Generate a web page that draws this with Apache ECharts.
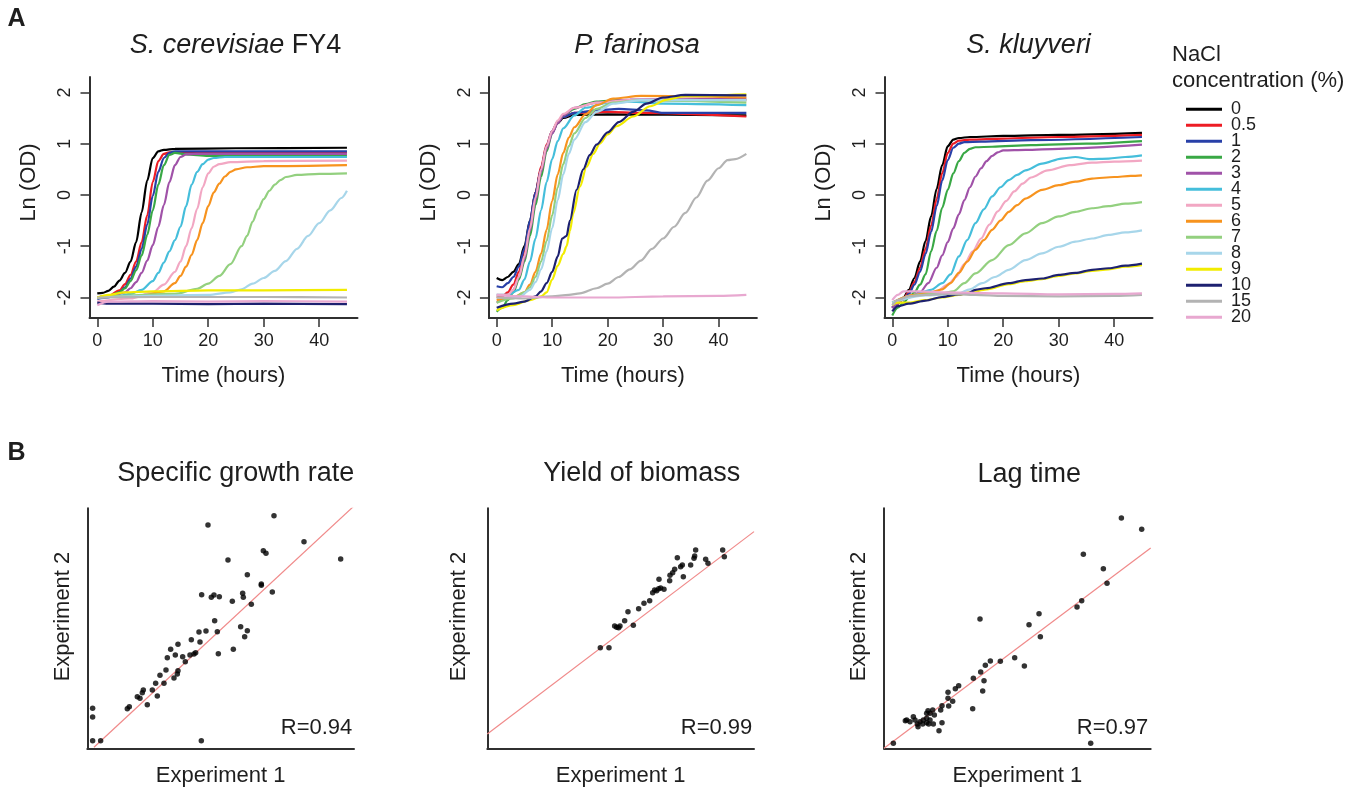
<!DOCTYPE html>
<html>
<head>
<meta charset="utf-8">
<script src="https://cdn.jsdelivr.net/npm/echarts@6/dist/echarts.min.js"></script>
<style>html,body{margin:0;padding:0;background:#fff}#c{width:1362px;height:790px}</style>
</head>
<body>
<div id="c"></div>
<script>
// ---------------- DATA ----------------
const concentrations = ['0','0.5','1','2','3','4','5','6','7','8','9','10','15','20'];
const lineColors = ['#000000','#ed1c24','#2840a8','#39a845','#a052a8','#45bedb','#f2a7c3','#f7931e','#93d07f','#a7d6ea','#f2ec00','#1d2170','#b3b3b3','#e8a8d0'];
const timeTicks = [0,10,20,30,40];
const odTicks = [-2,-1,0,1,2];

// S. cerevisiae FY4  [time (h), ln(OD)]
const scer_0   = [[0,-1.92],[1,-1.91],[2,-1.87],[3,-1.79],[4,-1.67],[5,-1.52],[6,-1.3],[7,-0.92],[8,-0.34],[9,0.28],[10,0.72],[11,0.85],[12,0.88],[14,0.9],[25,0.91],[45,0.92]];
const scer_05  = [[0,-2.0],[2,-1.97],[4,-1.86],[5,-1.74],[6,-1.56],[7,-1.3],[8,-0.92],[9,-0.4],[10,0.25],[11,0.66],[12,0.8],[13,0.83],[16,0.83],[45,0.83]];
const scer_1   = [[0,-2.03],[2,-2.0],[4,-1.9],[5,-1.8],[6,-1.63],[7,-1.4],[8,-1.05],[9,-0.58],[10,-0.02],[11,0.45],[12,0.72],[13,0.82],[14,0.85],[45,0.85]];
const scer_2   = [[0,-2.0],[2,-1.98],[4,-1.9],[5,-1.82],[6,-1.68],[7,-1.47],[8,-1.18],[9,-0.78],[10,-0.3],[11,0.2],[12,0.58],[13,0.78],[14,0.82],[16,0.79],[20,0.76],[45,0.76]];
const scer_3   = [[0,-2.0],[3,-1.96],[5,-1.9],[6,-1.82],[7,-1.7],[8,-1.52],[9,-1.28],[10,-0.98],[11,-0.62],[12,-0.2],[13,0.25],[14,0.58],[15,0.74],[16,0.79],[18,0.8],[45,0.8]];
const scer_4   = [[0,-2.0],[4,-1.97],[6,-1.93],[8,-1.85],[10,-1.68],[11,-1.52],[12,-1.32],[13,-1.1],[14,-0.88],[15,-0.62],[16,-0.22],[17,0.2],[18,0.45],[19,0.6],[20,0.69],[21,0.72],[23,0.74],[45,0.74]];
const scer_5   = [[0,-2.08],[6,-2.02],[10,-1.9],[12,-1.75],[14,-1.5],[15,-1.3],[16,-1.0],[17,-0.65],[18,-0.27],[19,0.15],[20,0.42],[21,0.55],[22,0.6],[24,0.64],[30,0.66],[45,0.67]];
const scer_6   = [[0,-2.0],[8,-1.97],[12,-1.88],[14,-1.72],[15,-1.58],[16,-1.4],[17,-1.17],[18,-0.88],[19,-0.55],[20,-0.22],[21,0.05],[22,0.22],[23,0.36],[24,0.45],[25,0.5],[27,0.54],[30,0.56],[45,0.58]];
const scer_7   = [[0,-2.0],[14,-1.93],[18,-1.83],[20,-1.73],[22,-1.58],[24,-1.35],[26,-1.0],[27,-0.8],[28,-0.52],[29,-0.28],[30,-0.08],[31,0.08],[32,0.2],[33,0.29],[34,0.35],[36,0.39],[40,0.41],[45,0.42]];
const scer_8   = [[0,-2.0],[20,-1.95],[24,-1.9],[26,-1.84],[28,-1.73],[30,-1.62],[32,-1.48],[34,-1.29],[36,-1.05],[38,-0.8],[40,-0.55],[42,-0.3],[44,-0.06],[45,0.08]];
const scer_9   = [[0,-2.0],[2,-1.95],[5,-1.9],[10,-1.88],[20,-1.86],[30,-1.86],[45,-1.85]];
const scer_10  = [[0,-2.1],[2,-2.12],[10,-2.12],[20,-2.13],[30,-2.12],[45,-2.13]];
const scer_15  = [[0,-2.0],[10,-1.99],[20,-1.99],[30,-1.99],[45,-2.0]];
const scer_20  = [[0,-2.15],[2,-2.08],[10,-2.07],[20,-2.08],[30,-2.07],[45,-2.08]];

// P. farinosa
const pfar_0   = [[0,-1.62],[1,-1.66],[2,-1.6],[3,-1.5],[4,-1.35],[5,-1.0],[6,-0.5],[7,0.05],[8,0.5],[9,0.94],[10,1.22],[11,1.4],[12,1.5],[14,1.56],[20,1.57],[45,1.55]];
const pfar_05  = [[0,-2.0],[1,-1.98],[2,-1.9],[3,-1.75],[4,-1.5],[5,-1.1],[6,-0.55],[7,0.05],[8,0.55],[9,0.98],[10,1.25],[11,1.42],[12,1.52],[14,1.6],[20,1.62],[26,1.6],[45,1.53]];
const pfar_1   = [[0,-1.78],[1,-1.8],[2,-1.72],[3,-1.6],[4,-1.4],[5,-1.05],[6,-0.5],[7,0.05],[8,0.5],[9,0.95],[10,1.25],[11,1.42],[12,1.52],[14,1.6],[18,1.65],[22,1.68],[27,1.65],[30,1.6],[45,1.6]];
const pfar_2   = [[0,-2.28],[1,-2.2],[2,-2.05],[3,-1.9],[4,-1.65],[5,-1.3],[6,-0.8],[7,-0.2],[8,0.35],[9,0.85],[10,1.2],[11,1.42],[12,1.55],[14,1.68],[16,1.77],[18,1.82],[22,1.85],[45,1.85]];
const pfar_3   = [[0,-2.1],[2,-2.0],[3,-1.85],[4,-1.6],[5,-1.25],[6,-0.7],[7,-0.1],[8,0.45],[9,0.9],[10,1.2],[11,1.4],[12,1.55],[14,1.7],[18,1.8],[24,1.86],[45,1.88]];
const pfar_4   = [[0,-1.95],[2,-1.95],[4,-1.85],[5,-1.65],[6,-1.3],[7,-0.85],[8,-0.3],[9,0.25],[10,0.7],[11,1.05],[12,1.3],[14,1.55],[16,1.7],[20,1.8],[24,1.82],[30,1.78],[45,1.75]];
const pfar_5   = [[0,-1.95],[2,-1.95],[3,-1.85],[4,-1.6],[5,-1.2],[6,-0.65],[7,-0.05],[8,0.5],[9,0.95],[10,1.25],[11,1.45],[12,1.58],[14,1.7],[18,1.8],[24,1.85],[45,1.85]];
const pfar_6   = [[0,-2.05],[3,-2.0],[5,-1.9],[6,-1.75],[7,-1.5],[8,-1.15],[9,-0.68],[10,-0.12],[11,0.4],[12,0.82],[13,1.12],[14,1.32],[16,1.57],[18,1.75],[21,1.88],[26,1.93],[45,1.9]];
const pfar_7   = [[0,-2.1],[3,-2.02],[5,-1.9],[6,-1.8],[7,-1.6],[8,-1.3],[9,-0.9],[10,-0.4],[11,0.15],[12,0.6],[13,0.95],[14,1.2],[16,1.5],[18,1.68],[21,1.8],[26,1.85],[45,1.8]];
const pfar_8   = [[0,-2.0],[4,-2.0],[6,-1.85],[7,-1.7],[8,-1.45],[9,-1.1],[10,-0.65],[11,-0.1],[12,0.4],[13,0.8],[14,1.08],[16,1.42],[18,1.62],[21,1.78],[26,1.85],[45,1.85]];
const pfar_9   = [[0,-2.25],[3,-2.15],[6,-2.05],[8,-1.98],[9,-1.9],[10,-1.65],[11,-1.38],[12,-1.15],[12.6,-1.0],[13.2,-0.7],[13.8,-0.36],[15,0.16],[16.2,0.55],[17.4,0.8],[18.6,1.0],[20,1.18],[21.6,1.34],[24.6,1.53],[27.7,1.73],[30.7,1.86],[34,1.93],[45,1.96]];
const pfar_10  = [[0,-2.2],[3,-2.12],[5,-2.08],[7,-1.98],[8,-1.88],[9,-1.72],[10,-1.5],[11,-1.2],[11.8,-0.85],[12.6,-0.8],[13.2,-0.5],[14.4,0.1],[15.6,0.5],[16.8,0.78],[18,0.98],[20,1.22],[22,1.42],[24.6,1.62],[27,1.78],[30,1.9],[34,1.95],[45,1.94]];
const pfar_15  = [[0,-2.0],[5,-2.02],[10,-1.98],[13,-1.95],[15,-1.92],[18,-1.82],[20,-1.73],[22,-1.6],[24,-1.45],[26,-1.28],[28,-1.05],[30,-0.85],[32,-0.62],[34,-0.35],[36,-0.05],[38,0.28],[40,0.52],[41.6,0.68],[43,0.7],[45,0.8]];
const pfar_20  = [[0,-1.95],[5,-1.98],[10,-2.0],[20,-2.0],[30,-1.98],[40,-1.97],[45,-1.95]];

// S. kluyveri
const sklu_0   = [[0,-2.2],[1,-2.12],[2,-2.0],[3,-1.85],[4,-1.62],[5,-1.3],[6,-0.9],[7,-0.42],[8,0.12],[9,0.58],[10,0.95],[11,1.08],[12,1.11],[14,1.13],[20,1.15],[30,1.17],[45,1.21]];
const sklu_05  = [[0,-2.2],[1,-2.12],[2,-2.02],[3,-1.9],[4,-1.7],[5,-1.42],[6,-1.05],[7,-0.6],[8,-0.08],[9,0.42],[10,0.82],[11,1.0],[12,1.06],[14,1.08],[20,1.1],[30,1.13],[45,1.17]];
const sklu_1   = [[0,-2.2],[2,-2.04],[3,-1.93],[4,-1.75],[5,-1.5],[6,-1.15],[7,-0.72],[8,-0.22],[9,0.28],[10,0.68],[11,0.92],[12,1.0],[13,1.03],[16,1.04],[25,1.07],[45,1.13]];
const sklu_2   = [[0,-2.35],[1,-2.2],[2,-2.1],[3,-2.0],[4,-1.9],[5,-1.75],[6,-1.55],[7,-1.1],[8,-0.7],[9,-0.25],[10,0.1],[11,0.42],[12,0.66],[13,0.82],[14,0.9],[15,0.93],[18,0.94],[25,0.97],[35,1.0],[45,1.05]];
const sklu_3   = [[0,-2.2],[3,-2.0],[5,-1.9],[6.5,-1.72],[8,-1.42],[9,-1.18],[10,-0.92],[11,-0.65],[12,-0.38],[13,-0.1],[14,0.15],[15,0.36],[16,0.52],[17,0.66],[18,0.76],[19,0.83],[20,0.87],[24,0.88],[30,0.9],[45,0.98]];
const sklu_4   = [[0,-2.1],[4,-1.95],[7,-1.85],[9,-1.72],[10.5,-1.55],[12,-1.2],[13.5,-0.88],[15,-0.55],[16.5,-0.28],[18,-0.03],[19.5,0.15],[21,0.29],[22.5,0.39],[24,0.48],[27,0.61],[30.5,0.71],[33,0.74],[35.5,0.7],[39,0.71],[42,0.74],[45,0.77]];
const sklu_5   = [[0,-2.1],[4,-1.95],[8,-1.88],[10,-1.75],[11.5,-1.6],[13,-1.35],[14.5,-1.1],[16,-0.85],[17.5,-0.58],[19,-0.32],[20.5,-0.12],[22,0.07],[23.5,0.22],[25,0.34],[28,0.48],[32,0.58],[36,0.63],[40,0.65],[45,0.67]];
const sklu_6   = [[0,-2.1],[4,-1.95],[7,-1.9],[9,-1.84],[10.5,-1.72],[12,-1.52],[13.5,-1.3],[15,-1.07],[16.5,-0.88],[18,-0.68],[19.5,-0.5],[21,-0.33],[22.5,-0.2],[24,-0.07],[27,0.1],[30,0.19],[33,0.26],[36,0.32],[40,0.35],[43,0.37],[45,0.38]];
const sklu_7   = [[0,-2.1],[5,-1.95],[9,-1.92],[11,-1.88],[13,-1.72],[15,-1.53],[18,-1.27],[21,-0.98],[24,-0.75],[27,-0.55],[30,-0.42],[33,-0.33],[36,-0.26],[39,-0.22],[42,-0.17],[45,-0.14]];
const sklu_8   = [[0,-2.1],[6,-1.96],[10,-1.94],[12,-1.92],[14,-1.84],[16.2,-1.72],[18.5,-1.6],[21,-1.46],[24,-1.27],[27,-1.14],[30,-1.01],[33,-0.91],[36,-0.85],[39,-0.78],[42,-0.73],[45,-0.69]];
const sklu_9   = [[0,-2.15],[1,-2.1],[3,-2.1],[6,-2.05],[9,-2.0],[12,-1.95],[14,-1.9],[17,-1.84],[21,-1.74],[24,-1.68],[27,-1.64],[30,-1.58],[33,-1.53],[36,-1.48],[39,-1.45],[42,-1.4],[45,-1.37]];
const sklu_10  = [[0,-2.27],[1,-2.17],[3,-2.12],[6,-2.06],[9,-1.99],[12,-1.94],[13.5,-1.92],[15,-1.85],[16.8,-1.82],[21,-1.72],[24,-1.66],[27,-1.63],[30,-1.56],[33,-1.52],[36,-1.46],[39,-1.43],[42,-1.38],[45,-1.34]];
const sklu_15  = [[0,-2.15],[1,-2.05],[3,-1.98],[6,-1.95],[10,-1.93],[15,-1.95],[20,-1.97],[30,-1.98],[40,-1.97],[45,-1.95]];
const sklu_20  = [[0,-2.05],[1,-1.95],[2,-1.88],[5,-1.88],[10,-1.9],[20,-1.92],[30,-1.94],[40,-1.93],[45,-1.92]];

// Panel B: experiment 1 vs experiment 2 (relative units)
const growthRate = [[560,698],[362,670],[650,620],[528,593],[536,585],[760,568],[422,565],[480,521],[522,493],[522,489],[555,469],[466,465],[468,453],[343,461],[372,453],[380,460],[396,455],[435,441],[492,432],[382,383],[356,352],[390,350],[460,365],[480,353],[472,335],[335,349],[312,326],[338,319],[272,312],[250,297],[438,297],[393,284],[325,287],[320,283],[308,280],[286,275],[264,280],[240,272],[294,260],[236,235],[218,219],[272,233],[270,223],[260,211],[230,195],[205,195],[195,175],[168,175],[165,167],[150,155],[158,150],[210,157],[180,131],[126,125],[120,119],[16,120],[16,94],[16,23],[40,23],[342,23]];
const biomassYield = [[339,302],[365,302],[438,369],[382,367],[388,363],[394,362],[398,367],[412,383],[422,410],[454,419],[470,435],[487,443],[496,467],[502,475],[508,473],[514,479],[520,481],[530,477],[515,507],[547,503],[548,519],[556,527],[562,537],[570,572],[580,545],[585,550],[588,515],[610,550],[620,570],[622,577],[625,595],[655,567],[662,555],[706,595],[711,575]];
const lagTime = [[28,15],[712,691],[773,657],[598,582],[658,539],[669,495],[593,443],[579,424],[288,388],[465,404],[435,371],[469,335],[392,272],[421,247],[349,261],[319,262],[304,249],[290,229],[268,210],[300,203],[296,172],[224,188],[214,179],[192,168],[192,150],[206,141],[174,128],[194,127],[170,115],[266,119],[146,115],[132,113],[128,105],[138,105],[151,100],[174,77],[165,53],[148,73],[138,85],[128,90],[118,85],[108,80],[100,73],[116,73],[128,77],[134,73],[93,85],[88,95],[78,80],[68,85],[64,83],[102,65],[620,15]];
const fitGrowth = [[20,3],[800,727]];
const fitYield = [[0,43],[800,650]];
const fitLag = [[0,0],[800,601]];
const rValues = ['R=0.94','R=0.99','R=0.97'];
const panelTitlesB = ['Specific growth rate','Yield of biomass','Lag time'];

// ---------------- CHART ----------------
const FONT = '"Liberation Sans", Arial, Helvetica, sans-serif';
const TXT = '#1e1e1e';
const AX = '#303030';
const curvesA = [
  [scer_0,scer_05,scer_1,scer_2,scer_3,scer_4,scer_5,scer_6,scer_7,scer_8,scer_9,scer_10,scer_15,scer_20],
  [pfar_0,pfar_05,pfar_1,pfar_2,pfar_3,pfar_4,pfar_5,pfar_6,pfar_7,pfar_8,pfar_9,pfar_10,pfar_15,pfar_20],
  [sklu_0,sklu_05,sklu_1,sklu_2,sklu_3,sklu_4,sklu_5,sklu_6,sklu_7,sklu_8,sklu_9,sklu_10,sklu_15,sklu_20]
];
const scatterB = [growthRate, biomassYield, lagTime];
const fitB = [fitGrowth, fitYield, fitLag];

const gridA = [89.5, 488.9, 884.5];
const gridB = [87.3, 487.3, 884];

const grids = [], xAxes = [], yAxes = [], series = [];
gridA.forEach(l => grids.push({left:l, top:77, width:268, height:241, containLabel:false, outerBoundsMode:'none'}));
gridB.forEach(l => grids.push({left:l, top:508.3, width:266.7, height:240, containLabel:false, outerBoundsMode:'none'}));

for (let i = 0; i < 3; i++) {
  xAxes.push({
    gridIndex:i, type:'value', min:-1.4, max:46.9,
    name:'Time (hours)', nameLocation:'middle', nameGap:47,
    nameTextStyle:{fontSize:22, fontFamily:FONT, color:TXT},
    axisLine:{show:true, onZero:false, lineStyle:{color:AX, width:2}},
    axisTick:{show:true, inside:false, length:9, customValues:timeTicks, lineStyle:{color:AX, width:1.5}},
    axisLabel:{show:true, customValues:timeTicks, margin:14, fontSize:18, fontFamily:FONT, color:TXT},
    splitLine:{show:false}
  });
  yAxes.push({
    gridIndex:i, type:'value', min:-2.4, max:2.3,
    axisLine:{show:true, onZero:false, lineStyle:{color:AX, width:2}},
    axisTick:{show:true, inside:false, length:9, customValues:odTicks, lineStyle:{color:AX, width:1.5}},
    axisLabel:{show:true, customValues:odTicks, rotate:90, margin:15, fontSize:18, fontFamily:FONT, color:TXT},
    splitLine:{show:false}
  });
  curvesA[i].forEach((data, k) => {
    series.push({
      name:concentrations[k], type:'line', xAxisIndex:i, yAxisIndex:i, data:data,
      symbol:'none', smooth:0.3, smoothMonotone:'x',
      lineStyle:{width:2.2, color:lineColors[k]}, itemStyle:{color:lineColors[k]},
      emphasis:{disabled:true}, z:2
    });
  });
}
for (let i = 0; i < 3; i++) {
  const g = 3 + i;
  xAxes.push({
    gridIndex:g, type:'value', min:0, max:800,
    name:'Experiment 1', nameLocation:'middle', nameGap:17,
    nameTextStyle:{fontSize:22, fontFamily:FONT, color:TXT},
    axisLine:{show:true, onZero:false, lineStyle:{color:AX, width:2}},
    axisTick:{show:false}, axisLabel:{show:false}, splitLine:{show:false}
  });
  yAxes.push({
    gridIndex:g, type:'value', min:0, max:720,
    axisLine:{show:true, onZero:false, lineStyle:{color:AX, width:2}},
    axisTick:{show:false}, axisLabel:{show:false}, splitLine:{show:false}
  });
  series.push({
    name:'fit' + i, type:'line', xAxisIndex:g, yAxisIndex:g, data:fitB[i],
    symbol:'none', lineStyle:{width:1.2, color:'#f08a8a'}, emphasis:{disabled:true}, z:1
  });
  series.push({
    name:'points' + i, type:'scatter', xAxisIndex:g, yAxisIndex:g, data:scatterB[i],
    symbolSize:5.5, itemStyle:{color:'#000'}, emphasis:{disabled:true}, z:3
  });
}

function txt(x, y, text, size, opts) {
  opts = opts || {};
  const st = {text:text, fontSize:size, fontFamily:FONT, fill:TXT,
    align:opts.align||'center', textAlign:opts.align||'center',
    verticalAlign:'middle', textVerticalAlign:'middle',
    fontWeight:opts.bold?'bold':'normal'};
  if (opts.rich) st.rich = opts.rich;
  return {type:'text', x:x, y:y, rotation:opts.rot||0, style:st, z:10};
}
const italicRich = {i:{fontStyle:'italic', fontSize:27, fontFamily:FONT, fill:TXT}};
const graphics = [
  txt(16.5, 19.5, 'A', 25, {bold:true}),
  txt(16.5, 453.5, 'B', 25, {bold:true}),
  txt(235.5, 45.5, '{i|S. cerevisiae} FY4', 27, {rich:italicRich}),
  txt(637, 45.5, '{i|P. farinosa}', 27, {rich:italicRich}),
  txt(1028.6, 45.5, '{i|S. kluyveri}', 27, {rich:italicRich}),
  txt(29, 182.5, 'Ln (OD)', 22, {rot:Math.PI/2}),
  txt(428.5, 182.5, 'Ln (OD)', 22, {rot:Math.PI/2}),
  txt(824, 182.5, 'Ln (OD)', 22, {rot:Math.PI/2}),
  txt(1172, 55, 'NaCl', 22, {align:'left'}),
  txt(1172, 81, 'concentration (%)', 22, {align:'left'}),
  txt(235.8, 474, panelTitlesB[0], 27),
  txt(641.7, 474, panelTitlesB[1], 27),
  txt(1029.2, 475, panelTitlesB[2], 27),
  txt(62.5, 616.5, 'Experiment 2', 22, {rot:Math.PI/2}),
  txt(459, 616.5, 'Experiment 2', 22, {rot:Math.PI/2}),
  txt(859, 616.5, 'Experiment 2', 22, {rot:Math.PI/2}),
  txt(352.3, 727.5, rValues[0], 22, {align:'right'}),
  txt(752.3, 727.5, rValues[1], 22, {align:'right'}),
  txt(1148.3, 727.5, rValues[2], 22, {align:'right'})
];

const chart = echarts.init(document.getElementById('c'), null, {renderer:'canvas'});
chart.setOption({
  backgroundColor:'#ffffff',
  animation:false,
  grid:grids, xAxis:xAxes, yAxis:yAxes, series:series,
  legend:{
    data:concentrations, orient:'vertical', left:1186, top:100.3, padding:0,
    icon:'rect', itemWidth:36, itemHeight:3, itemGap:-2,
    textStyle:{fontSize:18, lineHeight:16, fontFamily:FONT, color:TXT, padding:[0,0,0,4]}
  },
  graphic:graphics
});
</script>
</body>
</html>
